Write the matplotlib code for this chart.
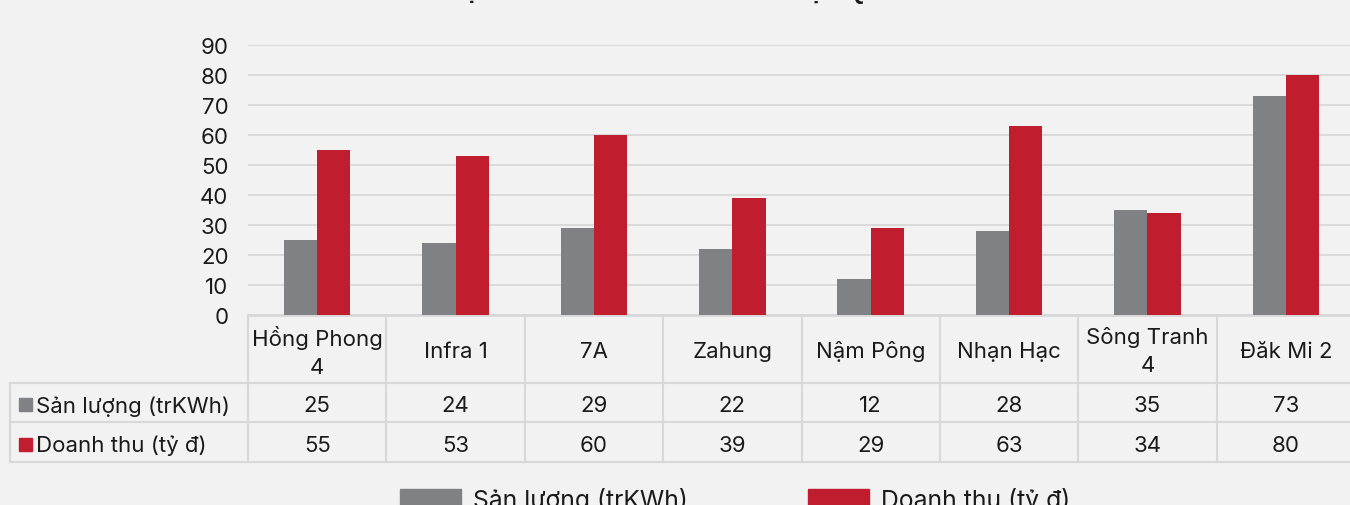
import matplotlib
matplotlib.use("Agg")
import matplotlib.pyplot as plt
import numpy as np
from matplotlib.transforms import blended_transform_factory
from matplotlib.lines import Line2D
from matplotlib.patches import Rectangle

# ---- data ----
categories = ["Hồng Phong\n4", "Infra 1", "7A", "Zahung", "Nậm Pông",
              "Nhạn Hạc", "Sông Tranh\n4", "Đăk Mi 2"]
san_luong = [25, 24, 29, 22, 12, 28, 35, 73]
doanh_thu = [55, 53, 60, 39, 29, 63, 34, 80]
series_names = ["Sản lượng (trKWh)", "Doanh thu (tỷ đ)"]
title = "SẢN LƯỢNG VÀ DOANH THU THỦY ĐIỆN QUÝ 1/2024"
yticks = [0, 10, 20, 30, 40, 50, 60, 70, 80, 90]

# ---- style ----
W, H = 1350, 506
BG = "#F1F2F1"
GRAY = "#808185"
RED = "#C01E2E"
LINE = "#D8D8D8"
TXT = "#1A1A1A"
FONT = "Inter"
FS = 16

plt.rcParams["font.family"] = [FONT, "DejaVu Sans"]

fig = plt.figure(figsize=(W / 100, H / 100), dpi=100, facecolor=BG)


def fx(px):
    return px / W


def fy(px):
    return 1 - px / H


ax = fig.add_axes([fx(248), fy(316), fx(1355) - fx(248), fy(46) - fy(316)])
ax.set_facecolor(BG)

x = np.arange(len(categories))
bw = 0.24
ax.bar(x - bw / 2, san_luong, bw, color=GRAY, zorder=3)
ax.bar(x + bw / 2, doanh_thu, bw, color=RED, zorder=3)

ax.set_xlim(-0.5, len(categories) - 0.5)
ax.set_ylim(0, 90)
ax.set_yticks(yticks)
ax.set_yticklabels([str(v) for v in yticks], fontsize=FS, color=TXT)
ax.tick_params(axis="y", length=0, pad=14)
ax.set_xticks([])
ax.grid(axis="y", color=LINE, linewidth=1.3, zorder=0)
for s in ["left", "right", "top"]:
    ax.spines[s].set_visible(False)
ax.spines["bottom"].set_color(LINE)
ax.spines["bottom"].set_linewidth(2)

# ---- data table ----
blend = blended_transform_factory(ax.transData, fig.transFigure)
top, r1, r2, bot = 316, 384, 423, 463
for b in np.arange(len(categories) + 1) - 0.5:
    ax.plot([b, b], [fy(top), fy(bot)], transform=blend, color=LINE,
            lw=1.5, clip_on=False, zorder=1)
for yy in (r1, r2, bot):
    fig.add_artist(Line2D([fx(10), 1.0], [fy(yy), fy(yy)], color=LINE, lw=1.5))
fig.add_artist(Line2D([fx(10), fx(10)], [fy(r1), fy(bot)], color=LINE, lw=1.5))

for i, cat in enumerate(categories):
    ax.text(i, fy((top + r1) / 2 + 2), cat, transform=blend, ha="center",
            va="center", fontsize=FS, color=TXT, linespacing=1.5)
    ax.text(i, fy((r1 + r2) / 2 + 3), str(san_luong[i]), transform=blend,
            ha="center", va="center", fontsize=FS, color=TXT)
    ax.text(i, fy((r2 + bot) / 2 + 3), str(doanh_thu[i]), transform=blend,
            ha="center", va="center", fontsize=FS, color=TXT)

for name, col, (ya, yb) in zip(series_names, [GRAY, RED], [(r1, r2), (r2, bot)]):
    yc = (ya + yb) / 2 + 2
    fig.add_artist(Rectangle((fx(19), fy(yc + 6.5)), fx(13), 13 / H,
                             color=col, transform=fig.transFigure))
    fig.text(fx(36), fy(yc + 1), name, ha="left", va="center", fontsize=FS,
             color=TXT)

# ---- title (mostly cut off at the top) ----
fig.text(0.5, fy(-1), title, ha="center", va="baseline", fontsize=17,
         fontweight="bold", color=TXT, family="Liberation Sans")

# ---- bottom legend (cut off) ----
for name, col, bx in zip(series_names, [GRAY, RED], [400, 808]):
    fig.add_artist(Rectangle((fx(bx), fy(520)), fx(61), 30 / H, color=col,
                             transform=fig.transFigure))
    fig.text(fx(bx + 73), fy(508), name, ha="left", va="baseline",
             fontsize=17.8, color=TXT)

fig.savefig("out.png", dpi=100, facecolor=BG)
